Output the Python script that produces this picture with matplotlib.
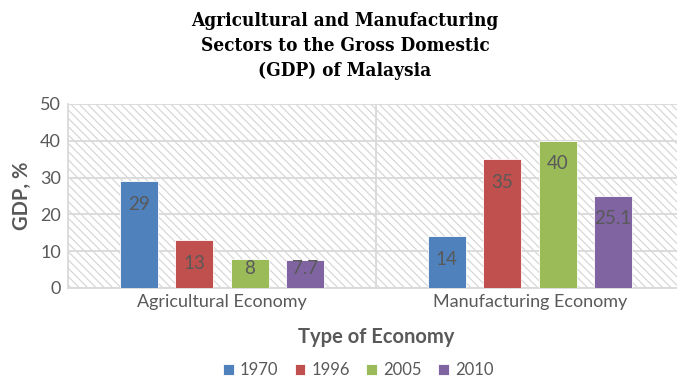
import numpy as np
import matplotlib
matplotlib.use("Agg")
import matplotlib.pyplot as plt
from matplotlib.patches import Rectangle

categories = ["Agricultural Economy", "Manufacturing Economy"]
years = ["1970", "1996", "2005", "2010"]
gdp_1970 = [29, 14]
gdp_1996 = [13, 35]
gdp_2005 = [8, 40]
gdp_2010 = [7.7, 25.1]

colors = ["#4f81bd", "#c0504d", "#9bbb59", "#8064a2"]
grey = "#595959"
grid_grey = "#d9d9d9"

plt.rcParams["font.family"] = ["Lato", "DejaVu Sans"]
plt.rcParams["hatch.linewidth"] = 0.8

fig = plt.figure(figsize=(6.77, 3.80), dpi=100)
ax = fig.add_axes([68 / 677, 92 / 380, 616 / 677, 184 / 380])

# hatched plot area background
ax.add_patch(Rectangle((0, 0), 1, 1, transform=ax.transAxes, facecolor="white",
                       edgecolor="#d4d4d4", linewidth=0, hatch="\\\\\\\\", zorder=0))

ind = np.arange(len(categories))
width = 0.123
step = 0.18
series = [gdp_1970, gdp_1996, gdp_2005, gdp_2010]
handles = []
for i, vals in enumerate(series):
    pos = ind + (i - 1.5) * step
    b = ax.bar(pos, vals, width, color=colors[i], edgecolor="white",
               linewidth=0.6, zorder=3, label=years[i])
    handles.append(b)
    for x, v in zip(pos, vals):
        ax.text(x, max(v - 6.3, 5.2), f"{v:g}", ha="center", va="center",
                fontsize=13.5, color=grey, zorder=4)

ax.set_xlim(-0.5, 1.5)
ax.set_ylim(0, 50)
ax.set_yticks(np.arange(0, 51, 10))
ax.yaxis.grid(True, color=grid_grey, linewidth=1.3, zorder=1)
ax.set_axisbelow(True)
ax.axvline(0.5, color=grid_grey, linewidth=1.3, zorder=1)
ax.set_xticks(ind)
ax.set_xticklabels(categories)
ax.tick_params(axis="both", length=0, colors=grey, labelsize=13)
ax.tick_params(axis="y", pad=5)
ax.tick_params(axis="x", pad=4)
for s in ["top", "right"]:
    ax.spines[s].set_visible(False)
ax.spines["left"].set_color(grid_grey)
ax.spines["bottom"].set_color(grid_grey)
ax.spines["left"].set_linewidth(1.3)
ax.spines["bottom"].set_linewidth(1.3)

ax.set_ylabel("GDP, %", fontsize=14.5, fontweight="bold", color=grey, labelpad=6)
fig.text(376 / 677, 1 - 337 / 380, "Type of Economy", ha="center", va="center",
         fontsize=14.5, fontweight="bold", color=grey)

fig.text(345 / 677, 1 - 46 / 380,
         "Agricultural and Manufacturing\nSectors to the Gross Domestic\n(GDP) of Malaysia",
         ha="center", va="center", fontsize=13.6, fontweight="bold",
         fontstretch="condensed", family=["DejaVu Serif"], linespacing=1.5,
         color="black")

fig.legend(handles=handles, labels=years, loc="center", ncol=4,
           bbox_to_anchor=(358 / 677, 1 - 370 / 380), frameon=False,
           handlelength=0.65, handleheight=0.65, handletextpad=0.35,
           columnspacing=1.0, fontsize=12, labelcolor=grey)

fig.savefig("out.png", dpi=100)
